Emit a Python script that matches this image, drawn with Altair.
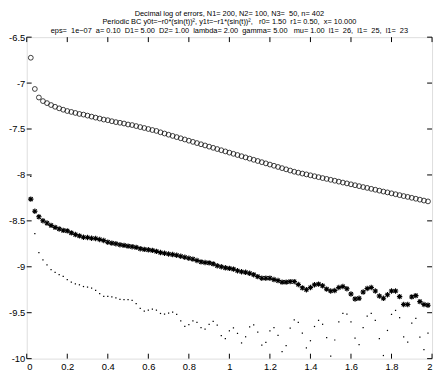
import altair as alt
import pandas as pd

step_index = list(range(1, 100))
x_values = [round(0.02 * k, 2) for k in step_index]

circles = [
    -6.724, -7.064, -7.157, -7.196, -7.218, -7.239, -7.258, -7.275, -7.290, -7.304,
    -7.314, -7.325, -7.336, -7.343, -7.354, -7.365, -7.376, -7.386, -7.397, -7.404,
    -7.415, -7.425, -7.432, -7.440, -7.451, -7.457, -7.468, -7.479, -7.489, -7.500,
    -7.511, -7.521, -7.536, -7.549, -7.562, -7.575, -7.588, -7.601, -7.614, -7.627,
    -7.640, -7.653, -7.666, -7.679, -7.692, -7.705, -7.718, -7.731, -7.744, -7.757,
    -7.770, -7.783, -7.796, -7.809, -7.822, -7.835, -7.848, -7.861, -7.874, -7.887,
    -7.900, -7.913, -7.926, -7.939, -7.952, -7.965, -7.975, -7.985, -7.994, -8.004,
    -8.014, -8.024, -8.034, -8.043, -8.053, -8.063, -8.073, -8.083, -8.092, -8.102,
    -8.112, -8.122, -8.132, -8.141, -8.151, -8.161, -8.171, -8.181, -8.190, -8.200,
    -8.210, -8.220, -8.230, -8.239, -8.249, -8.259, -8.269, -8.279, -8.288,
]

stars = [
    -8.263, -8.395, -8.456, -8.499, -8.524, -8.549, -8.571, -8.588, -8.603, -8.609,
    -8.631, -8.649, -8.663, -8.678, -8.681, -8.689, -8.692, -8.703, -8.714, -8.732,
    -8.742, -8.749, -8.760, -8.767, -8.775, -8.781, -8.789, -8.803, -8.810, -8.815,
    -8.821, -8.832, -8.845, -8.853, -8.861, -8.867, -8.874, -8.885, -8.896, -8.907,
    -8.917, -8.931, -8.946, -8.953, -8.957, -8.968, -8.989, -9.000, -9.011, -9.017,
    -9.025, -9.043, -9.054, -9.060, -9.071, -9.086, -9.107, -9.124, -9.124, -9.124,
    -9.139, -9.150, -9.167, -9.167, -9.161, -9.161, -9.193, -9.229, -9.250, -9.225,
    -9.196, -9.189, -9.207, -9.243, -9.264, -9.258, -9.225, -9.215, -9.239, -9.296,
    -9.350, -9.343, -9.275, -9.236, -9.225, -9.264, -9.318, -9.343, -9.304, -9.264,
    -9.264, -9.325, -9.411, -9.411, -9.328, -9.314, -9.379, -9.411, -9.418,
]

dots = [
    -8.016, -8.638, -8.845, -8.925, -8.979, -9.032, -9.060, -9.086, -9.103, -9.139,
    -9.167, -9.186, -9.196, -9.215, -9.221, -9.232, -9.258, -9.293, -9.322, -9.322,
    -9.328, -9.339, -9.354, -9.357, -9.357, -9.365, -9.400, -9.454, -9.483, -9.472,
    -9.461, -9.472, -9.508, -9.515, -9.504, -9.493, -9.518, -9.590, -9.650, -9.629,
    -9.590, -9.604, -9.661, -9.679, -9.626, -9.593, -9.636, -9.750, -9.783, -9.697,
    -9.665, -9.725, -9.829, -9.762, -9.654, -9.633, -9.711, -9.854, -9.822, -9.697,
    -9.661, -9.747, -9.923, -9.858, -9.668, -9.579, -9.604, -9.722, -9.883, -9.805,
    -9.650, -9.583, -9.626, -9.772, -9.972, -9.797, -9.601, -9.508, -9.515, -9.601,
    -9.776, -9.847, -9.661, -9.536, -9.508, -9.583, -9.783, -9.966, -9.693, -9.518,
    -9.475, -9.554, -9.762, -9.819, -9.612, -9.561, -9.765, -9.901, -9.722,
]

x_ticks = [0, 0.2, 0.4, 0.6, 0.8, 1.0, 1.2, 1.4, 1.6, 1.8, 2.0]
y_ticks = [-10, -9.5, -9, -8.5, -8, -7.5, -7, -6.5]

NB = "\u00a0"
title_lines = [
    "Decimal log of errors, N1= 200, N2= 100, N3=" + NB + " 50, n= 402",
    "Periodic BC y0t=\u2212r0*(sin(t))\u00b2, y1t=\u2212r1*(sin(t))\u00b2," + NB + NB
    + " r0= 1.50" + NB + " r1= 0.50," + NB + " x= 10.000",
    "eps=" + NB + " 1e\u221207" + NB + " a= 0.10" + NB + " D1= 5.00" + NB + " D2= 1.00"
    + NB + " lambda= 2.00" + NB + " gamma= 5.00" + NB + NB + " mu= 1.00" + NB
    + " l1=" + NB + " 26," + NB + " l1=" + NB + " 25," + NB + " l1=" + NB + " 23",
]

W, H = 411, 326
FONT = "Liberation Sans"

df_c = pd.DataFrame({"x": x_values, "y": circles})
df_s = pd.DataFrame({"x": x_values, "y": stars})
df_d = pd.DataFrame({"x": x_values, "y": dots})
df_xt = pd.DataFrame({"t": x_ticks})
df_yt = pd.DataFrame({"t": y_ticks})

xs = alt.Scale(domain=[0, 2], nice=False, zero=False)
ys = alt.Scale(domain=[-10, -6.5], nice=False, zero=False)

lbl = "replace(datum.label, '\u2212', '-')"
xaxis = alt.Axis(values=x_ticks, format=".1~f", ticks=False, domain=False, grid=False,
                 labelFontSize=9.5, labelFont=FONT, labelColor="black", labelPadding=3,
                 labelExpr=lbl, title=None)
yaxis = alt.Axis(values=y_ticks, format=".1~f", ticks=False, domain=False, grid=False,
                 labelFontSize=9.5, labelFont=FONT, labelColor="black", labelPadding=2,
                 labelExpr=lbl, title=None)

circ = alt.Chart(df_c).mark_point(shape="circle", filled=False, size=24, stroke="#111",
                                  strokeWidth=0.8, opacity=1).encode(
    x=alt.X("x:Q", scale=xs, axis=xaxis),
    y=alt.Y("y:Q", scale=ys, axis=yaxis),
)

ast_path = "M-1,0L1,0M0,-1L0,1M-0.72,-0.72L0.72,0.72M-0.72,0.72L0.72,-0.72"
star = alt.Chart(df_s).mark_point(shape=ast_path, filled=False, size=30, stroke="#000",
                                  strokeWidth=1.1, opacity=1).encode(
    x=alt.X("x:Q", scale=xs),
    y=alt.Y("y:Q", scale=ys),
)

dot = alt.Chart(df_d).mark_point(shape="square", filled=True, size=1.6, color="#000",
                                 opacity=1).encode(
    x=alt.X("x:Q", scale=xs),
    y=alt.Y("y:Q", scale=ys),
)

tk = 5
bottom_ticks = alt.Chart(df_xt).mark_rule(color="black", strokeWidth=1).encode(
    x=alt.X("t:Q", scale=xs), y=alt.value(H), y2=alt.value(H - tk))
top_ticks = alt.Chart(df_xt).mark_rule(color="black", strokeWidth=1).encode(
    x=alt.X("t:Q", scale=xs), y=alt.value(0), y2=alt.value(tk))
left_ticks = alt.Chart(df_yt).mark_rule(color="black", strokeWidth=1).encode(
    y=alt.Y("t:Q", scale=ys), x=alt.value(0), x2=alt.value(tk))
right_ticks = alt.Chart(df_yt).mark_rule(color="black", strokeWidth=1).encode(
    y=alt.Y("t:Q", scale=ys), x=alt.value(W), x2=alt.value(W - tk))

chart = alt.layer(circ, star, dot, bottom_ticks, top_ticks, left_ticks, right_ticks).properties(
    width=W, height=H,
    autosize=alt.AutoSizeParams(type="none"),
    padding={"left": 19, "top": 27, "right": 3, "bottom": 13},
    title=alt.TitleParams(text=title_lines, fontSize=7.5, lineHeight=8.5, font=FONT,
                          fontWeight="normal", color="black", anchor="middle", offset=2,
                          dy=4),
).configure_view(stroke="black", strokeWidth=1).configure(background="white")

chart.save("out.html", embed_options={"renderer": "svg", "actions": False})
